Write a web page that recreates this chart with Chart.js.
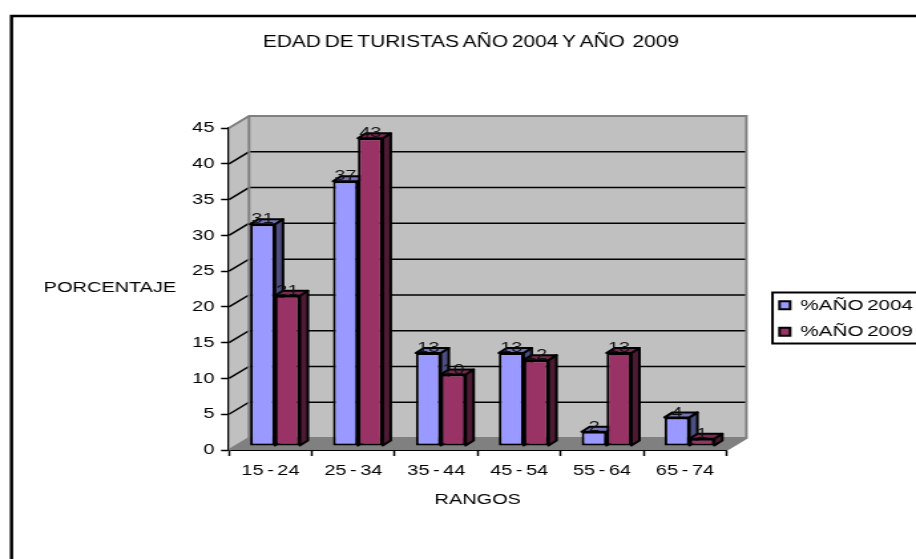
<!DOCTYPE html>
<html>
<head>
<meta charset="utf-8">
<title>Edad de turistas</title>
<script src="https://cdn.jsdelivr.net/npm/chart.js@4"></script>
<style>
  html, body { margin: 0; padding: 0; background: #fff; overflow: hidden; }
</style>
</head>
<body>
<canvas id="grafic" width="689" height="559" style="width:916px;height:559px"></canvas>
<script>
const categorii = ['15 - 24', '25 - 34', '35 - 44', '45 - 54', '55 - 64', '65 - 74'];
const valori2004 = [31, 37, 13, 13, 2, 4];
const valori2009 = [21, 43, 10, 12, 13, 1];
const tickuriY = [0, 5, 10, 15, 20, 25, 30, 35, 40, 45];

// the source picture is a stretched image, so the canvas is stretched the same way
const SX = 916 / 689;
const px = v => v / SX;

const font = "'Liberation Sans', Arial, sans-serif";
const adancime = { x: px(20), y: 12 };   // depth of the side wall
const bara3d = { x: px(8), y: 5 };       // depth of one bar
const mutareBara = { x: px(4.5), y: -4 };

const umbre = [
    { top: '#7373B8', side: '#4D4D80' },
    { top: '#7A2952', side: '#4D1A33' }
];

// walls, floor and gridlines behind the bars
const pereti = {
    id: 'pereti',
    beforeDraw(chart) {
        // the spaces in the source text are narrow
        chart.ctx.wordSpacing = '-1.5px';
    },
    beforeDatasetsDraw(chart) {
        const { ctx, chartArea: a, scales } = chart;
        const dx = adancime.x, dy = adancime.y;
        const w = a.right - a.left, h = a.bottom - a.top;
        ctx.save();
        ctx.fillStyle = '#C0C0C0';
        ctx.fillRect(a.left + dx, a.top - dy, w, h);
        ctx.beginPath();
        ctx.moveTo(a.left, a.top);
        ctx.lineTo(a.left + dx, a.top - dy);
        ctx.lineTo(a.left + dx, a.bottom - dy);
        ctx.lineTo(a.left, a.bottom);
        ctx.closePath();
        ctx.fill();
        // floor
        ctx.fillStyle = '#808080';
        ctx.beginPath();
        ctx.moveTo(a.left, a.bottom);
        ctx.lineTo(a.left + dx, a.bottom - dy);
        ctx.lineTo(a.right + dx, a.bottom - dy);
        ctx.lineTo(a.right, a.bottom);
        ctx.closePath();
        ctx.fill();
        // gridlines
        ctx.strokeStyle = '#000';
        ctx.lineWidth = 1.5;
        tickuriY.forEach(t => {
            if (t === 0 || t === 45) return;
            const y = scales.y.getPixelForValue(t);
            ctx.beginPath();
            ctx.moveTo(a.left, y);
            ctx.lineTo(a.left + dx, y - dy);
            ctx.lineTo(a.right + dx, y - dy);
            ctx.stroke();
        });
        // wall edges
        ctx.strokeStyle = '#808080';
        ctx.lineWidth = 2;
        ctx.beginPath();
        ctx.moveTo(a.left, a.top);
        ctx.lineTo(a.left + dx, a.top - dy);
        ctx.lineTo(a.right + dx, a.top - dy);
        ctx.lineTo(a.right + dx, a.bottom - dy);
        ctx.lineTo(a.right, a.bottom);
        ctx.moveTo(a.left + dx, a.top - dy);
        ctx.lineTo(a.left + dx, a.bottom - dy);
        ctx.lineTo(a.left, a.bottom);
        ctx.moveTo(a.left + dx, a.bottom - dy);
        ctx.lineTo(a.right + dx, a.bottom - dy);
        ctx.stroke();
        ctx.restore();
    }
};

// top and side faces of each bar, then shift the bars to the middle of the floor
const bare3d = {
    id: 'bare3d',
    beforeDatasetsDraw(chart) {
        const { ctx } = chart;
        ctx.save();
        ctx.translate(mutareBara.x, mutareBara.y);
        const dx = bara3d.x, dy = bara3d.y;
        ctx.strokeStyle = '#000';
        ctx.lineWidth = 2;
        ctx.lineJoin = 'round';
        chart.data.datasets.forEach((ds, i) => {
            chart.getDatasetMeta(i).data.forEach(bar => {
                const l = bar.x - bar.width / 2, r = bar.x + bar.width / 2;
                const t = bar.y, b = bar.base;
                ctx.fillStyle = umbre[i].side;
                ctx.beginPath();
                ctx.moveTo(r, t);
                ctx.lineTo(r + dx, t - dy);
                ctx.lineTo(r + dx, b - dy);
                ctx.lineTo(r, b);
                ctx.closePath();
                ctx.fill();
                ctx.stroke();
                ctx.fillStyle = umbre[i].top;
                ctx.beginPath();
                ctx.moveTo(l, t);
                ctx.lineTo(l + dx, t - dy);
                ctx.lineTo(r + dx, t - dy);
                ctx.lineTo(r, t);
                ctx.closePath();
                ctx.fill();
                ctx.stroke();
            });
        });
    },
    afterDatasetsDraw(chart) {
        const { ctx } = chart;
        // value labels sit over the top face
        ctx.fillStyle = '#111';
        ctx.font = '15px ' + font;
        ctx.textAlign = 'center';
        ctx.textBaseline = 'middle';
        chart.data.datasets.forEach((ds, i) => {
            chart.getDatasetMeta(i).data.forEach((bar, j) => {
                ctx.fillText(String(ds.data[j]), bar.x, bar.y - 5);
            });
        });
        ctx.restore();
    }
};

// frame, horizontal y title and legend box
const cadru = {
    id: 'cadru',
    afterLayout(chart) {
        chart.titleBlock.left += px(26);
        chart.titleBlock.right += px(26);
        chart.legend.left = px(779.5) - 11;
        chart.legend.right = chart.width;
        chart.legend.top = 286.5;
    },
    afterDraw(chart) {
        const { ctx } = chart;
        ctx.save();
        ctx.strokeStyle = '#000';
        ctx.lineWidth = 2.5;
        ctx.beginPath();
        ctx.moveTo(px(11.5), 559);
        ctx.lineTo(px(11.5), 16);
        ctx.lineTo(px(916), 16);
        ctx.stroke();
        ctx.lineWidth = 2;
        ctx.strokeRect(px(772.5), 292.5, px(150), 51);
        ctx.fillStyle = '#000';
        ctx.font = '15px ' + font;
        ctx.textAlign = 'center';
        ctx.textBaseline = 'middle';
        ctx.fillText('PORCENTAJE', px(110), 288);
        ctx.restore();
    }
};

new Chart(document.getElementById('grafic'), {
    type: 'bar',
    data: {
        labels: categorii,
        datasets: [
            { label: '%AÑO 2004', data: valori2004, backgroundColor: '#9999FF' },
            { label: '%AÑO 2009', data: valori2009, backgroundColor: '#993366' }
        ]
    },
    options: {
        responsive: false,
        animation: false,
        events: [],
        categoryPercentage: 0.6,
        barPercentage: 1,
        borderColor: '#000',
        borderWidth: 2,
        borderSkipped: false,
        layout: { padding: { left: 0, right: 19.7, top: 0, bottom: 0 } },
        plugins: {
            tooltip: { enabled: false },
            title: {
                display: true,
                text: 'EDAD DE TURISTAS AÑO 2004 Y AÑO  2009',
                color: '#000',
                font: { family: font, size: 15.7, weight: 'normal', lineHeight: 1.2 },
                padding: { top: 33.4, bottom: 75.8 }
            },
            legend: {
                position: 'right',
                align: 'start',
                labels: {
                    boxWidth: 8,
                    boxHeight: 8,
                    padding: 11,
                    color: '#000',
                    font: { family: font, size: 15.5 }
                }
            }
        },
        scales: {
            x: {
                afterFit(s) { s.height = 109; },
                grid: { drawOnChartArea: false, tickLength: 6, tickColor: '#000', tickWidth: 1.5, offset: true },
                border: { color: '#000', width: 2 },
                ticks: { color: '#000', padding: 6, maxRotation: 0, font: { family: font, size: 15 } },
                title: {
                    display: true,
                    text: 'RANGOS',
                    color: '#000',
                    font: { family: font, size: 15 },
                    padding: { top: 0, bottom: 50 }
                }
            },
            y: {
                min: 0,
                max: 45,
                afterFit(s) { s.width = px(229); },
                afterBuildTicks(s) { s.ticks = tickuriY.map(v => ({ value: v })); },
                grid: { drawOnChartArea: false, tickLength: 6, tickColor: '#000', tickWidth: 1.5 },
                border: { color: '#000', width: 2 },
                ticks: { color: '#000', padding: 5, font: { family: font, size: 15 } }
            }
        }
    },
    plugins: [pereti, bare3d, cadru]
});
</script>
</body>
</html>
